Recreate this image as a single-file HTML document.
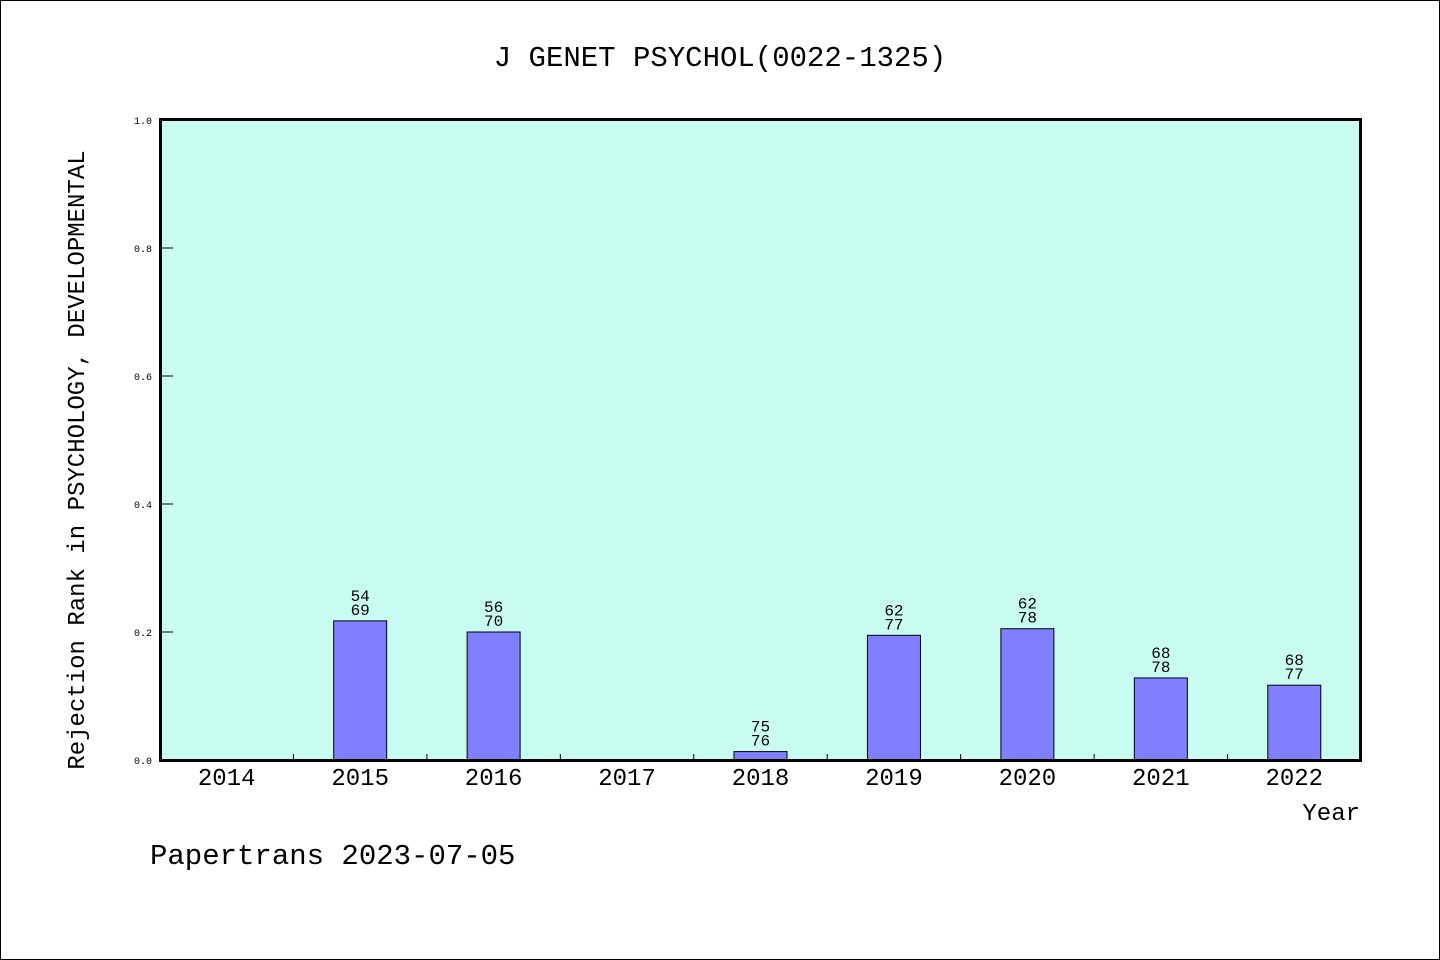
<!DOCTYPE html>
<html><head><meta charset="utf-8"><style>
html,body{margin:0;padding:0;background:#fff;}
svg{display:block;font-family:"Liberation Mono","WenQuanYi Zen Hei",monospace;}
</style></head><body>
<svg id="chart" width="1440" height="960" viewBox="0 0 1440 960">
<rect x="0.5" y="0.5" width="1439" height="959" fill="#fff" stroke="#000" stroke-width="1"/>
<text x="720" y="66" text-anchor="middle" font-size="29">J GENET PSYCHOL(0022-1325)</text>
<rect x="161" y="120" width="1199" height="640" fill="#c8fcf0"/>
<g id="marks"></g>
<rect x="160.5" y="119.5" width="1200" height="641" fill="none" stroke="#000" stroke-width="3"/>
<text transform="translate(84,460) rotate(-90)" text-anchor="middle" font-size="24">Rejection Rank in PSYCHOLOGY, DEVELOPMENTAL</text>
<text x="1360" y="820" text-anchor="end" font-size="24">Year</text>
<text x="150" y="864" font-size="29">Papertrans 2023-07-05</text>
</svg>
<script>
const years = ['2014','2015','2016','2017','2018','2019','2020','2021','2022'];
const ranks = [null,54,56,null,75,62,62,68,68];
const totals = [null,69,70,null,76,77,78,78,77];
const yTicks = [0,0.2,0.4,0.6,0.8,1.0];
const yTickLabels = ['0.0','0.2','0.4','0.6','0.8','1.0'];

const NS='http://www.w3.org/2000/svg';
const g=document.getElementById('marks');
const X0=160,X1=1361,Y0=760,Y1=120;
const step=(X1-X0)/years.length;
const xc=i=>X0+step*(i+0.5);
const y=v=>Y0-(Y0-Y1)*v;
function mk(t,a){const e=document.createElementNS(NS,t);for(const k in a)e.setAttribute(k,a[k]);g.appendChild(e);return e;}
yTicks.forEach((v,i)=>{
  const l=mk('line',{x1:X0,x2:X0+13,y1:y(v),y2:y(v),stroke:'#000','stroke-width':1});
  
  
  const t=mk('text',{x:X0-8,y:y(v)+4,'text-anchor':'end','font-size':10});
  t.textContent=yTickLabels[i];
  
  
});
years.forEach((yr,i)=>{
  if(i>0){
    const l=mk('line',{x1:X0+step*i,x2:X0+step*i,y1:Y0,y2:Y0-6,stroke:'#000','stroke-width':1});
    
    
  }
  const t=mk('text',{x:xc(i),y:Y0+25,'text-anchor':'middle','font-size':24});
  t.textContent=yr;
  
  
  if(ranks[i]!=null){
    const v=1-ranks[i]/totals[i];
    const b=mk('rect',{x:xc(i)-26.5,y:y(v),width:53,height:Y0-y(v),fill:'#8080ff',stroke:'#000','stroke-width':1});
    
    
    const n=mk('text',{x:xc(i),y:y(v)-20,'text-anchor':'middle','font-size':16});
    n.textContent=ranks[i];
    
    
    const d=mk('text',{x:xc(i),y:y(v)-6,'text-anchor':'middle','font-size':16});
    d.textContent=totals[i];
    
    
  }
});
</script>
</body></html>
